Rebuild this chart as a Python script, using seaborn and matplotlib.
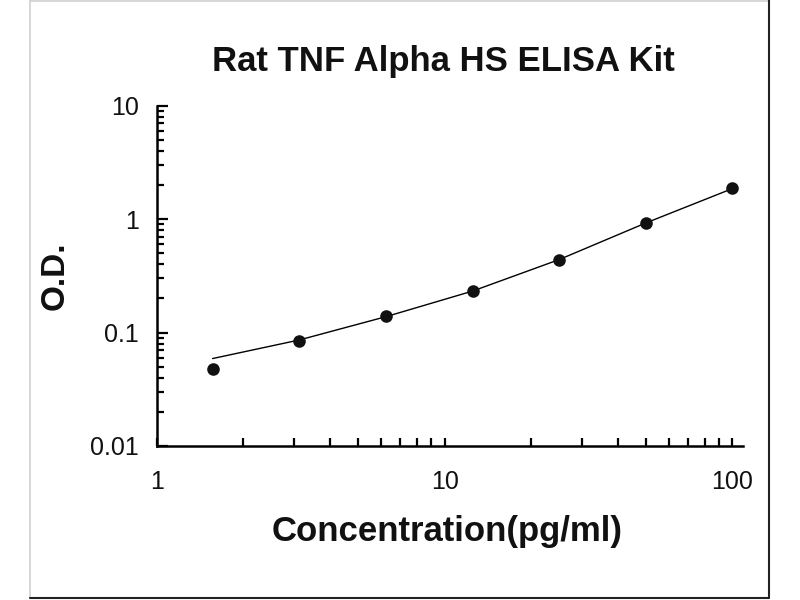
import numpy as np
import pandas as pd
import seaborn as sns
import matplotlib
matplotlib.use('Agg')
import matplotlib.pyplot as plt
from matplotlib.lines import Line2D
from matplotlib.ticker import LogLocator, NullFormatter

# standards
conc = [1.5625, 3.125, 6.25, 12.5, 25, 50, 100]
od = [0.0474, 0.0838, 0.139, 0.233, 0.435, 0.93, 1.88]
# fitted curve at the same concentrations
fit_od = [0.059, 0.086, 0.138, 0.232, 0.44, 0.925, 1.86]

x_ticks = [1, 10, 100]
x_tick_labels = ['1', '10', '100']
y_ticks = [0.01, 0.1, 1, 10]
y_tick_labels = ['0.01', '0.1', '1', '10']

points = pd.DataFrame({'conc': conc, 'od': od})
curve = pd.DataFrame({'conc': conc, 'od': fit_od})

sns.set_style('white')
plt.rcParams['font.family'] = ['Liberation Sans', 'DejaVu Sans']

fig = plt.figure(figsize=(8, 6), dpi=100)
ax = fig.add_axes([0.196, 0.2567, 0.733, 0.5671])

sns.lineplot(data=curve, x='conc', y='od', color='black', linewidth=1.0, ax=ax)
sns.scatterplot(data=points, x='conc', y='od', color='#111111', s=82,
                edgecolor='#111111', linewidth=0, ax=ax, zorder=3)

ax.set_xscale('log')
ax.set_yscale('log')
ax.set_xlim(1, 109)
ax.set_ylim(0.01, 10)

ax.set_xticks(x_ticks)
ax.set_xticklabels(x_tick_labels)
ax.set_yticks(y_ticks)
ax.set_yticklabels(y_tick_labels)
ax.xaxis.set_minor_locator(LogLocator(base=10, subs=np.arange(2, 10)))
ax.yaxis.set_minor_locator(LogLocator(base=10, subs=np.arange(2, 10)))
ax.xaxis.set_minor_formatter(NullFormatter())
ax.yaxis.set_minor_formatter(NullFormatter())

ax.tick_params(axis='both', which='both', direction='in', color='black',
               bottom=True, left=True, width=1.6, labelsize=18,
               labelcolor='#111111')
ax.tick_params(axis='y', which='major', length=8, pad=13)
ax.tick_params(axis='y', which='minor', length=5)
ax.tick_params(axis='x', which='major', length=6, pad=17)
ax.tick_params(axis='x', which='minor', length=5.5)

sns.despine(ax=ax)
for side in ['left', 'bottom']:
    ax.spines[side].set_linewidth(1.8)
    ax.spines[side].set_color('black')

ax.set_xlabel('')
ax.set_ylabel('')

fig.text(443 / 800, 1 - 71 / 600, 'Rat TNF Alpha HS ELISA Kit', ha='center',
         va='baseline', fontsize=25, fontweight='bold', color='#111111')
fig.text(447 / 800, 1 - 541 / 600, 'Concentration(pg/ml)', ha='center',
         va='baseline', fontsize=25, fontweight='bold', color='#111111')
fig.text(55 / 800, 1 - 276 / 600, 'O.D.', ha='center', va='center',
         rotation=90, fontsize=24, fontweight='bold', color='#111111')

# outer frame of the original image
fig.add_artist(Line2D([30 / 800, 30 / 800], [0.003, 0.998], transform=fig.transFigure,
                      color='#cfcfcf', linewidth=1.2))
fig.add_artist(Line2D([30 / 800, 769 / 800], [0.998, 0.998], transform=fig.transFigure,
                      color='#cfcfcf', linewidth=1.2))
fig.add_artist(Line2D([769 / 800, 769 / 800], [0.003, 1.0], transform=fig.transFigure,
                      color='#222222', linewidth=1.5))
fig.add_artist(Line2D([30 / 800, 769 / 800], [0.004, 0.004], transform=fig.transFigure,
                      color='#222222', linewidth=1.5))

fig.savefig('out.png', dpi=100)
